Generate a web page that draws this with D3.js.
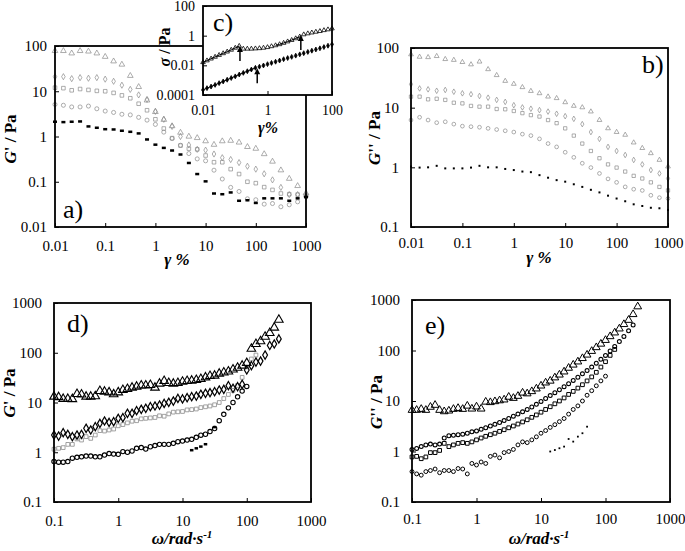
<!DOCTYPE html>
<html>
<head>
<meta charset="utf-8">
<script src="https://cdn.jsdelivr.net/npm/d3@7"></script>
<style>
  body { margin: 0; background: #fff; }
  svg text { font-family: "Liberation Serif", "Times New Roman", Times, serif; }
</style>
</head>
<body>
<svg width="685" height="551"></svg>
<script>
// ---- panel a / b : strain sweeps ----
const strainAB = [0.01, 0.0147, 0.0215, 0.0316, 0.0464, 0.0681, 0.1, 0.147, 0.215, 0.316, 0.464, 0.681,
    1, 1.47, 2.15, 3.16, 4.64, 6.81, 10, 14.7, 21.5, 31.6, 46.4, 68.1, 100, 147, 215, 316, 464, 681, 1000];

const aTri = [78, 78, 69, 78, 76, 69, 58, 46, 39, 22, 12.5, 6.3, 3.5, 2.35, 1.7, 1.22, 1.0, 0.93, 0.79, 0.66,
    0.79, 0.81, 0.74, 0.59, 0.54, 0.41, 0.28, 0.18, 0.117, 0.081, 0.056];
const aDia = [21, 21, 19, 20, 19.4, 20, 18.5, 16.6, 13.6, 11, 8.3, 6.6, 3.6, 2.4, 1.67, 1.0, 0.65, 0.52, 0.5,
    0.41, 0.34, 0.31, 0.265, 0.22, 0.19, 0.15, 0.11, 0.075, 0.052, 0.052, 0.046];
const aSq = [12, 11.7, 10.5, 11.2, 10.7, 10.2, 10, 9.2, 8.1, 7, 5.3, 3.8, 2.4, 1.5, 0.92, 0.63, 0.54, 0.52, 0.38,
    0.27, 0.27, 0.19, 0.148, 0.1, 0.093, 0.076, 0.066, 0.055, 0.053, 0.052, 0.05];
const aCirc = [5.1, 4.9, 4.5, 4.5, 4.7, 4.1, 3.65, 3.4, 3.1, 3, 2.65, 2.3, 1.85, 1.25, 0.9, 0.64, 0.42, 0.32,
    0.29, 0.18, 0.115, 0.075, 0.061, 0.042, 0.04, 0.032, 0.033, 0.028, 0.031, 0.036, 0.047];
const aDash = [2.12, 2.08, 2.12, 2.15, 1.67, 1.56, 1.45, 1.43, 1.34, 1.27, 1.17, 0.86, 0.66, 0.56, 0.49, 0.4,
    0.26, 0.148, 0.102, 0.055, 0.053, 0.058, 0.038, 0.039, 0.034, 0.043, 0.043, 0.043, 0.038, 0.043, 0.046];

const bTri = [78, 71, 70, 73, 65, 63, 58, 53, 59, 44, 35, 28, 25, 22, 19, 17.4, 15.3, 14.4, 12.3, 10.7, 10.1,
    8.6, 6.2, 4.5, 3.9, 3.5, 2.6, 2.1, 1.72, 1.33, 1.03];
const bDia = [24.7, 21, 20.3, 19.2, 19.8, 18.5, 17.4, 16.8, 15.7, 14.7, 13.5, 12.5, 11, 10.1, 9.6, 9.1, 8.6,
    7.9, 7.2, 6.5, 5.3, 3.9, 3, 2.2, 1.88, 1.61, 1.33, 1.12, 0.9, 0.79, 0.65];
const bSq = [15.3, 15.3, 13.8, 14.1, 13.5, 12.1, 11.8, 10.7, 10.4, 10.4, 9.5, 9.4, 8.8, 8.1, 7.5, 7.1, 6.2, 5.5,
    4.5, 3.4, 2.5, 1.88, 1.42, 1.12, 0.99, 0.85, 0.72, 0.65, 0.56, 0.47, 0.41];
const bCirc = [6.2, 6.9, 6.2, 5.6, 5.8, 5.3, 4.9, 4.8, 4.7, 4.5, 4.3, 4.1, 3.9, 3.6, 3.4, 3, 2.5, 2.2, 1.79,
    1.47, 1.17, 0.99, 0.79, 0.64, 0.56, 0.47, 0.43, 0.41, 0.34, 0.31, 0.3];
const bDash = [1.03, 0.99, 1, 1.06, 0.96, 0.96, 0.96, 0.99, 1.06, 1, 1, 0.94, 0.9, 0.85, 0.83, 0.74, 0.67, 0.61,
    0.575, 0.52, 0.47, 0.42, 0.38, 0.335, 0.3, 0.27, 0.24, 0.225, 0.21, 0.206, 0.193];

// ---- inset c : stress vs strain ----
const strainC = [0.01, 0.0133, 0.0178, 0.0237, 0.0316, 0.0422, 0.0562, 0.075, 0.1, 0.133, 0.178, 0.237, 0.316,
    0.422, 0.562, 0.75, 1, 1.33, 1.78, 2.37, 3.16, 4.22, 5.62, 7.5, 10, 13.3, 17.8, 23.7, 31.6, 42.2, 56.2, 75, 100];
const cTri = [0.016, 0.021, 0.028, 0.037, 0.049, 0.064, 0.083, 0.11, 0.15, 0.2, 0.13, 0.13, 0.13, 0.135, 0.14,
    0.15, 0.165, 0.19, 0.22, 0.26, 0.32, 0.4, 0.5, 0.65, 0.85, 1.2, 1.4, 1.6, 1.8, 2, 2.3, 2.6, 3];
const cDia = [0.00022, 0.00029, 0.00037, 0.00048, 0.00063, 0.00082, 0.00107, 0.0014, 0.0018, 0.0024, 0.0031,
    0.004, 0.0052, 0.0068, 0.0081, 0.0098, 0.012, 0.0145, 0.0175, 0.021, 0.026, 0.031, 0.037, 0.045, 0.055,
    0.066, 0.08, 0.097, 0.117, 0.14, 0.17, 0.21, 0.26];
const cTriFit = [[0, 9], [18, 24]];   // index ranges joined by a line
const cDiaFit = [[0, 13]];
const arrowX = [0.14, 10.8, 0.48];
const arrowTip = [0.2, 1.1, 0.0063];

// ---- panel d / e : frequency sweeps ----
const omega = [0.1, 0.118, 0.139, 0.164, 0.193, 0.228, 0.268, 0.316, 0.373, 0.439, 0.518, 0.611, 0.72, 0.848,
    1, 1.18, 1.39, 1.64, 1.93, 2.28, 2.68, 3.16, 3.73, 4.39, 5.18, 6.11, 7.2, 8.48, 10, 11.8, 13.9, 16.4, 19.3,
    22.8, 26.8, 31.6, 37.3, 43.9, 51.8, 61.1, 72, 84.8, 100, 118, 139, 164, 193, 228, 268, 316];

const dTri = [13.1, 12.8, 11.8, 11.8, 11.7, 14.8, 14.5, 13.1, 13.1, 13.3, 17, 16.5, 16, 14.6, 16, 17.8, 18.7,
    19.9, 20.8, 22, 22, 22.5, 19.9, 23.9, 27, 24.7, 23.9, 24.7, 26.2, 27, 27.5, 28.3, 29.7, 32, 34, 34.6, 38, 40,
    42, 46, 50, 55, 62, 120, 150, 170, 210, 250, 320, 460];
const dDia = [2.22, 2.12, 2.48, 2.29, 2.06, 2.22, 2.29, 3.03, 2.8, 3.27, 3.81, 4.25, 3.99, 4.12, 4.8, 4.96,
    6.06, 6.06, 6.85, 7.29, 7.64, 8.25, 8.5, 8.9, 9.6, 10.1, 10.7, 12.1, 11.8, 12.5, 13.1, 13.5, 14.6, 15.3, 15.8,
    16.5, 17.8, 18.4, 21.8, 19.3, 20.8, 23.2, 45, 55, 65, 68, 90, 140, 150, 190];
const dSq = [1.15, 1.2, 1.24, 1.44, 1.44, 1.85, 1.76, 2.06, 1.9, 2.22, 2.72, 2.67, 2.8, 2.93, 3.4, 3.6, 3.9,
    4.2, 4.3, 4.7, 4.8, 4.9, 5, 5.4, 5.3, 5.9, 6.4, 6.5, 6.6, 7.1, 7.2, 7.4, 7.9, 8.2, 8.5, 9, 10, 12, 14.5, 17.5,
    22, 32, 52, 75, 90];
const dCirc = [0.65, 0.63, 0.63, 0.65, 0.76, 0.79, 0.81, 0.84, 0.84, 0.81, 0.81, 0.88, 0.94, 0.92, 0.91, 1.03,
    1, 1.06, 1.2, 1.24, 1.16, 1.29, 1.36, 1.44, 1.44, 1.44, 1.51, 1.63, 1.68, 1.76, 1.82, 2, 2.2, 2.3, 2.6, 3,
    4.3, 5.8, 7.8, 10, 13, 17, 21];
const dDashStart = 30;
const dDash = [1.1, 1.2, 1.3, 1.45, null, 3.2];

const eTri = [6.6, 6.6, 6.9, 6.6, 7.6, 8.3, 6.6, 6.2, 6.4, 6.9, 7.2, 6.9, 8, 7, 7.7, 7, 9.6, 9.4, 9.8, 10.2,
    10.6, 12, 11.4, 12.5, 14.5, 14, 15.5, 17.5, 20, 23, 25, 29, 33, 38, 45, 52, 60, 70, 82, 97, 115, 135, 160,
    190, 225, 270, 330, 400, 520, 740];
const eDia = [1.1, 1.15, 1.25, 1.35, 1.4, 1.35, 1.4, 1.85, 2.05, 2.1, 2.15, 2.2, 2.3, 2.45, 2.55, 2.75, 2.95,
    3.2, 3.45, 3.75, 4.1, 4.5, 5, 5.5, 6.1, 6.8, 7.6, 8.6, 9.8, 11.2, 12.8, 14.6, 16.7, 19.2, 22, 25.5, 29.5,
    34.5, 40, 47, 56, 67, 80, 98, 120, 150, 190, 245, 320];
const eSq = [0.78, 0.8, 0.72, 0.78, 0.95, 0.95, 1.05, 1.45, 1.25, 1.35, 1.45, 1.5, 1.45, 1.55, 1.7, 1.85, 2,
    2.15, 2.3, 2.5, 2.7, 2.95, 3.2, 3.5, 3.85, 4.25, 4.75, 5.3, 6, 6.8, 7.7, 8.8, 10, 11.5, 13.5, 15.5, 18, 21,
    25, 30, 37, 47, 60, 80, 105];
const eCirc = [0.4, 0.36, 0.34, 0.4, 0.42, 0.45, 0.38, 0.42, 0.42, 0.4, 0.46, 0.45, 0.36, 0.58, 0.54, 0.62,
    0.58, 0.8, 0.85, 0.75, 0.95, 1, 1.1, 1.35, 1.55, 1.5, 1.7, 1.95, 2.3, 2.6, 3, 3.4, 3.9, 4.5, 5.5, 6.8, 8,
    10, 13, 16, 20, 25, 31];
const eDashStart = 30;
const eDash = [1, 1.07, 1.16, 1.25, 1.77, 1.57, 1.97, 2.3, 3.1];

const ticksStrain = [0.01, 0.1, 1, 10, 100, 1000];
const ticksOmega = [0.1, 1, 10, 100, 1000];
const ticksA = [0.01, 0.1, 1, 10, 100];
const ticksB = [0.1, 1, 10, 100];
const ticksDE = [0.1, 1, 10, 100, 1000];
const ticksCx = [0.01, 1, 100];
const ticksCy = [0.0001, 0.01, 1, 100];

const svg = d3.select('svg');
const GRAY = '#8a8a8a';

// builds one log-log frame, returns scales and a group for the marks
function panel(box, xDom, yDom, xTicks, yTicks, o) {
    const x = d3.scaleLog().domain(xDom).range([box.l, box.r]);
    const y = d3.scaleLog().domain(yDom).range([box.b, box.t]);
    const g = svg.append('g');
    if (o.white) {
        g.append('rect').attr('x', box.l).attr('y', box.t)
            .attr('width', box.r - box.l).attr('height', box.b - box.t).attr('fill', '#fff');
    }
    const plot = g.append('g');
    g.append('g').attr('transform', `translate(0,${box.b})`)
        .call(d3.axisBottom(x).tickValues(xTicks).tickFormat(String)
            .tickSizeInner(-4).tickSizeOuter(0).tickPadding(o.xPad));
    g.append('g').attr('transform', `translate(${box.l},0)`)
        .call(d3.axisLeft(y).tickValues(yTicks).tickFormat(String)
            .tickSizeInner(-4).tickSizeOuter(0).tickPadding(o.yPad));
    g.selectAll('.domain').remove();
    g.selectAll('.tick text').attr('font-size', o.fs).attr('fill', '#000');
    g.append('rect').attr('x', box.l).attr('y', box.t)
        .attr('width', box.r - box.l).attr('height', box.b - box.t)
        .attr('fill', 'none').attr('stroke', '#000').attr('stroke-width', 1.8);
    return { g, plot, x, y };
}

function pts(xs, ys, start) {
    const out = [];
    ys.forEach((v, i) => { if (v != null) out.push([xs[i + (start || 0)], v]); });
    return out;
}

function symbols(p, data, type, size, stroke, sw, fill) {
    p.plot.append('g').selectAll('path').data(data).enter().append('path')
        .attr('d', d3.symbol().type(type).size(size))
        .attr('transform', d => `translate(${p.x(d[0])},${p.y(d[1])})`)
        .attr('fill', fill || 'none').attr('stroke', stroke).attr('stroke-width', sw);
}

function dashes(p, data, w, h) {
    p.plot.append('g').selectAll('rect').data(data).enter().append('rect')
        .attr('x', d => p.x(d[0]) - w / 2).attr('y', d => p.y(d[1]) - h / 2)
        .attr('width', w).attr('height', h).attr('fill', '#000');
}

function label(x, y, parts, size, rotate) {
    const t = svg.append('text').attr('x', x).attr('y', y)
        .attr('text-anchor', 'middle').attr('font-size', size).attr('font-weight', 'bold');
    if (rotate) t.attr('transform', `rotate(-90,${x},${y})`);
    parts.forEach(pt => {
        const s = t.append('tspan').text(pt[0]);
        if (pt[1]) s.attr('font-style', 'italic');
        if (pt[2]) s.attr('baseline-shift', 'super').attr('font-size', size * 0.65);
    });
}

function tag(x, y, txt) {
    svg.append('text').attr('x', x).attr('y', y).attr('font-size', 26).text(txt);
}

// ---------- panel a ----------
const pa = panel({ l: 55, r: 306, t: 46, b: 227 }, [0.01, 1000], [0.01, 100], ticksStrain, ticksA,
    { xPad: 13, yPad: 8, fs: 15 });
symbols(pa, pts(strainAB, aTri), d3.symbolTriangle, 14, GRAY, 0.7);
symbols(pa, pts(strainAB, aDia), d3.symbolDiamond, 11, GRAY, 0.7);
symbols(pa, pts(strainAB, aSq), d3.symbolSquare, 13, GRAY, 0.7);
symbols(pa, pts(strainAB, aCirc), d3.symbolCircle, 13, GRAY, 0.7);
dashes(pa, pts(strainAB, aDash), 4, 2.5);
label(16, 139, [['G', true], ["' / Pa", false]], 17, true);
label(177, 265, [['γ', true], [' %', true]], 17);
tag(63, 218, 'a)');

// ---------- inset c ----------
const pc = panel({ l: 203, r: 332, t: 6, b: 95 }, [0.01, 100], [0.0001, 100], ticksCx, ticksCy,
    { xPad: 10, yPad: 8, fs: 14, white: true });
const line = d3.line().x(d => pc.x(d[0])).y(d => pc.y(d[1]));
cTriFit.forEach(r => pc.plot.append('path')
    .attr('d', line(pts(strainC, cTri).slice(r[0], r[1] + 1)))
    .attr('fill', 'none').attr('stroke', '#000').attr('stroke-width', 1));
cDiaFit.forEach(r => pc.plot.append('path')
    .attr('d', line(pts(strainC, cDia).slice(r[0], r[1] + 1)))
    .attr('fill', 'none').attr('stroke', '#000').attr('stroke-width', 1));
symbols(pc, pts(strainC, cTri), d3.symbolTriangle, 9, '#000', 0.8);
symbols(pc, pts(strainC, cDia), d3.symbolDiamond, 7, '#000', 0.8, '#000');
arrowX.forEach((ax, i) => {
    const px = pc.x(ax), tip = pc.y(arrowTip[i]);
    pc.plot.append('line').attr('x1', px).attr('x2', px).attr('y1', tip + 3).attr('y2', tip + 15)
        .attr('stroke', '#000').attr('stroke-width', 1.5);
    pc.plot.append('path').attr('d', `M${px},${tip}L${px - 3},${tip + 6}L${px + 3},${tip + 6}Z`).attr('fill', '#000');
});
label(170, 47, [['σ', true], [' / Pa', false]], 16, true);
label(268, 133, [['γ', true], ['%', true]], 16);
tag(213, 31, 'c)');

// ---------- panel b ----------
const pb = panel({ l: 411, r: 668, t: 48, b: 227 }, [0.01, 1000], [0.1, 100], ticksStrain, ticksB,
    { xPad: 10, yPad: 12, fs: 15 });
symbols(pb, pts(strainAB, bTri), d3.symbolTriangle, 10, GRAY, 0.7);
symbols(pb, pts(strainAB, bDia), d3.symbolDiamond, 9, GRAY, 0.7);
symbols(pb, pts(strainAB, bSq), d3.symbolSquare, 11, GRAY, 0.7);
symbols(pb, pts(strainAB, bCirc), d3.symbolCircle, 11, GRAY, 0.7);
dashes(pb, pts(strainAB, bDash), 2, 2);
label(380, 138, [['G', true], ["'' / Pa", false]], 17, true);
label(539, 263, [['γ', true], [' %', true]], 17);
tag(642, 73, 'b)');

// ---------- panel d ----------
const pd = panel({ l: 54, r: 311, t: 303, b: 502 }, [0.1, 1000], [0.1, 1000], ticksOmega, ticksDE,
    { xPad: 13, yPad: 12, fs: 15 });
symbols(pd, pts(omega, dSq), d3.symbolSquare, 14, GRAY, 0.8);
symbols(pd, pts(omega, dCirc), d3.symbolCircle, 15, '#000', 1.1);
symbols(pd, pts(omega, dDia), d3.symbolDiamond, 20, '#000', 1.2);
symbols(pd, pts(omega, dTri), d3.symbolTriangle, 32, '#000', 1.1);
dashes(pd, pts(omega, dDash, dDashStart), 3.5, 2.5);
label(15, 393, [['G', true], ["' / Pa", false]], 17, true);
label(182, 544, [['ω/rad·s', true], ['-1', true, true]], 17);
tag(67, 332, 'd)');

// ---------- panel e ----------
const pe = panel({ l: 412, r: 670, t: 300, b: 502 }, [0.1, 1000], [0.1, 1000], ticksOmega, ticksDE,
    { xPad: 11, yPad: 12, fs: 15 });
symbols(pe, pts(omega, eCirc), d3.symbolCircle, 12, '#000', 1);
symbols(pe, pts(omega, eSq), d3.symbolSquare, 14, '#000', 1);
symbols(pe, pts(omega, eDia), d3.symbolCircle, 12, '#000', 1.1);
symbols(pe, pts(omega, eTri), d3.symbolTriangle, 26, '#000', 1);
dashes(pe, pts(omega, eDash, eDashStart), 1.8, 1.8);
label(382, 402, [['G', true], ["'' / Pa", false]], 17, true);
label(539, 544, [['ω/rad·s', true], ['-1', true, true]], 17);
tag(425, 334, 'e)');
</script>
</body>
</html>
